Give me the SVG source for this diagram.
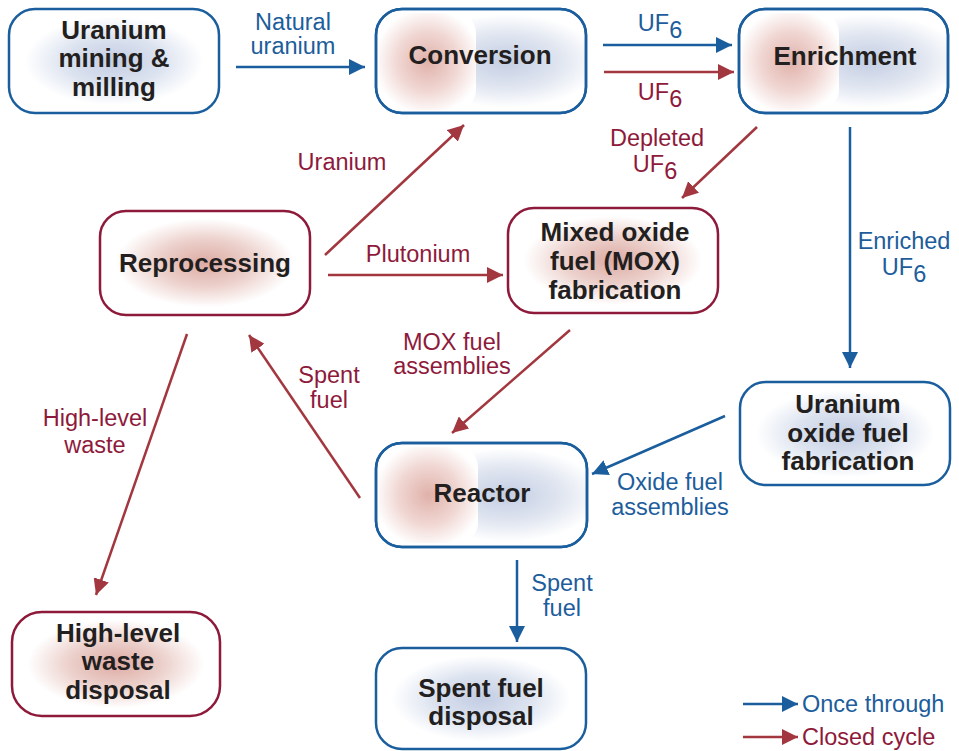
<svg xmlns="http://www.w3.org/2000/svg" width="959" height="751" viewBox="0 0 959 751">
<defs>
<style>
.bn{fill:url(#gB);stroke:#1a5e9e;stroke-width:2.5}
.rn{fill:url(#gR);stroke:#8e1a3b;stroke-width:2.5}
.mn{fill:url(#gBm);stroke:#1a5e9e;stroke-width:2.5}
.ov{fill:none;stroke:#1a5e9e;stroke-width:2.5}
.ins{fill:url(#gRm)}
.nt{font-family:"Liberation Sans",Arial,sans-serif;font-weight:bold;font-size:26px;fill:#231f20;text-anchor:middle}
.lb{font-family:"Liberation Sans",Arial,sans-serif;font-size:23.5px;fill:#1d5d9c;text-anchor:middle}
.lr{font-family:"Liberation Sans",Arial,sans-serif;font-size:23.5px;fill:#8e1a3b;text-anchor:middle}
.st{text-anchor:start}
.ab{stroke:#1a5e9e;stroke-width:2.5;fill:none;marker-end:url(#mB)}
.ar{stroke:#a3373f;stroke-width:2.5;fill:none;marker-end:url(#mR)}
</style>
<radialGradient id="gB" cx="0.5" cy="0.5" r="0.5">
<stop offset="0" stop-color="#c3cde3"/>
<stop offset="0.45" stop-color="#dbe2ef"/>
<stop offset="0.85" stop-color="#ffffff"/>
</radialGradient>
<radialGradient id="gR" cx="0.5" cy="0.5" r="0.5">
<stop offset="0" stop-color="#ddaba4"/>
<stop offset="0.45" stop-color="#ecd0cb"/>
<stop offset="0.85" stop-color="#ffffff"/>
</radialGradient>
<radialGradient id="gBm" cx="0.62" cy="0.5" r="0.45">
<stop offset="0" stop-color="#c3cde3"/>
<stop offset="0.6" stop-color="#e2e7f1"/>
<stop offset="1" stop-color="#ffffff"/>
</radialGradient>
<radialGradient id="gRm" cx="0.5" cy="0.5" r="0.55">
<stop offset="0" stop-color="#e0b1aa"/>
<stop offset="0.55" stop-color="#f0d6d2"/>
<stop offset="1" stop-color="#ffffff"/>
</radialGradient>
<marker id="mB" markerUnits="userSpaceOnUse" markerWidth="18" markerHeight="16" refX="16" refY="8" orient="auto">
<path d="M0,0 L16,8 L0,16 z" fill="#1a5e9e"/>
</marker>
<marker id="mR" markerUnits="userSpaceOnUse" markerWidth="18" markerHeight="16" refX="16" refY="8" orient="auto">
<path d="M0,0 L16,8 L0,16 z" fill="#a3373f"/>
</marker>
</defs>
<rect width="959" height="751" fill="#ffffff"/>

<g id="connectors">
<line class="ab" x1="236" y1="67" x2="365" y2="67"/>
<line class="ab" x1="603" y1="45" x2="732" y2="45"/>
<line class="ar" x1="604" y1="72" x2="734" y2="72"/>
<line class="ar" x1="757" y1="127" x2="682" y2="198"/>
<line class="ab" x1="850" y1="127" x2="850" y2="368"/>
<line class="ar" x1="325" y1="255" x2="464" y2="125"/>
<line class="ar" x1="328" y1="275" x2="503" y2="275"/>
<line class="ar" x1="570" y1="330" x2="452" y2="433"/>
<line class="ab" x1="725" y1="416" x2="592" y2="474"/>
<line class="ar" x1="360" y1="498" x2="249" y2="335"/>
<line class="ar" x1="187" y1="334" x2="96" y2="595"/>
<line class="ab" x1="517" y1="560" x2="517" y2="642"/>
<line class="ab" x1="743" y1="704" x2="798" y2="704"/>
<line class="ar" x1="743" y1="737" x2="798" y2="737"/>
</g>

<g id="labels">
<text class="lb" x="293" y="30">Natural</text>
<text class="lb" x="293" y="54">uranium</text>
<text class="lb" x="660" y="31">UF<tspan dy="7">6</tspan></text>
<text class="lr" x="660" y="100">UF<tspan dy="7">6</tspan></text>
<text class="lr" x="657" y="146">Depleted</text>
<text class="lr" x="655" y="172">UF<tspan dy="7">6</tspan></text>
<text class="lb" x="904" y="249">Enriched</text>
<text class="lb" x="904" y="275">UF<tspan dy="7">6</tspan></text>
<text class="lr" x="342" y="170">Uranium</text>
<text class="lr" x="418" y="262">Plutonium</text>
<text class="lr" x="452" y="350">MOX fuel</text>
<text class="lr" x="452" y="374">assemblies</text>
<text class="lb" x="670" y="490">Oxide fuel</text>
<text class="lb" x="670" y="515">assemblies</text>
<text class="lr" x="329" y="383">Spent</text>
<text class="lr" x="329" y="408">fuel</text>
<text class="lr" x="95" y="426">High-level</text>
<text class="lr" x="95" y="453">waste</text>
<text class="lb" x="562" y="591">Spent</text>
<text class="lb" x="562" y="616">fuel</text>
<text class="lb st" x="802" y="712">Once through</text>
<text class="lr st" x="802" y="745">Closed cycle</text>
</g>

<g id="mining">
<rect class="bn" x="9" y="9" width="210" height="104" rx="26"/>
<text class="nt" x="114" y="39">Uranium</text>
<text class="nt" x="114" y="67">mining &amp;</text>
<text class="nt" x="114" y="96">milling</text>
</g>

<g id="conversion">
<rect class="mn" x="376" y="9" width="210" height="104" rx="26"/>
<rect class="ins" x="379" y="13" width="97" height="97" rx="20"/>
<rect class="ov" x="376" y="9" width="210" height="104" rx="26"/>
<text class="nt" x="480" y="64">Conversion</text>
</g>

<g id="enrichment">
<rect class="mn" x="739" y="9" width="209" height="104" rx="26"/>
<rect class="ins" x="742" y="13" width="97" height="97" rx="20"/>
<rect class="ov" x="739" y="9" width="209" height="104" rx="26"/>
<text class="nt" x="845" y="65">Enrichment</text>
</g>

<g id="reprocessing">
<rect class="rn" x="100" y="211" width="210" height="104" rx="26"/>
<text class="nt" x="205" y="272">Reprocessing</text>
</g>

<g id="mox">
<rect class="rn" x="508" y="208" width="210" height="105" rx="26"/>
<text class="nt" x="615" y="241">Mixed oxide</text>
<text class="nt" x="615" y="270">fuel (MOX)</text>
<text class="nt" x="615" y="299">fabrication</text>
</g>

<g id="uox">
<rect class="bn" x="740" y="382" width="210" height="103" rx="26"/>
<text class="nt" x="848" y="413">Uranium</text>
<text class="nt" x="848" y="442">oxide fuel</text>
<text class="nt" x="848" y="470">fabrication</text>
</g>

<g id="reactor">
<rect class="mn" x="376" y="443" width="211" height="104" rx="26"/>
<rect class="ins" x="379" y="447" width="99" height="96" rx="20"/>
<rect class="ov" x="376" y="443" width="211" height="104" rx="26"/>
<text class="nt" x="482" y="502">Reactor</text>
</g>

<g id="hlw">
<rect class="rn" x="12" y="612" width="208" height="104" rx="30"/>
<text class="nt" x="118" y="642">High-level</text>
<text class="nt" x="118" y="670">waste</text>
<text class="nt" x="118" y="699">disposal</text>
</g>

<g id="sfd">
<rect class="bn" x="376" y="648" width="210" height="101" rx="26"/>
<text class="nt" x="481" y="697">Spent fuel</text>
<text class="nt" x="481" y="725">disposal</text>
</g>
</svg>
